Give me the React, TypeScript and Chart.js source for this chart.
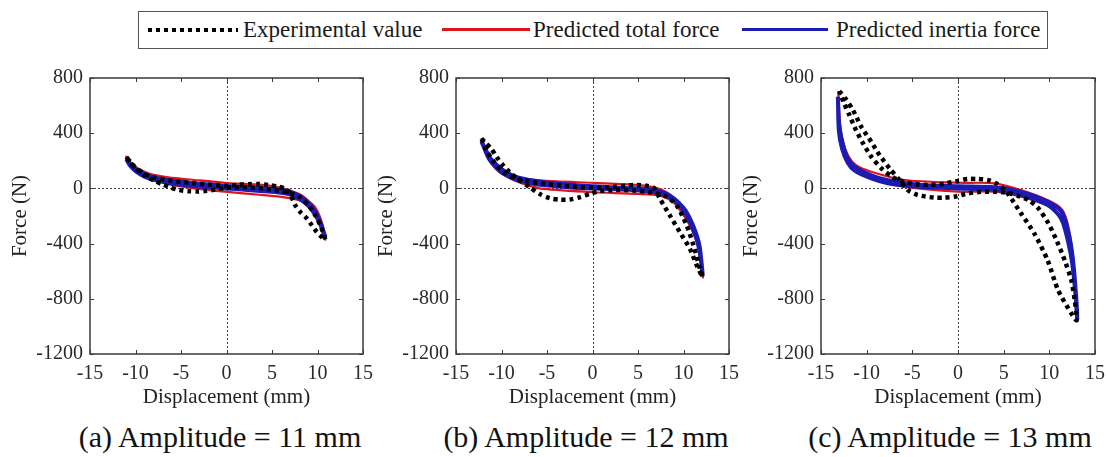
import React, { useEffect, useRef } from 'react';
import { Chart, registerables } from 'chart.js';

Chart.register(...registerables);

const FONT = "'Liberation Serif', 'Times New Roman', Times, serif";

// Axis ticks
const xTickValues = [-15, -10, -5, 0, 5, 10, 15];
const yTickValues = [-1200, -800, -400, 0, 400, 800];

// Legend / captions
const seriesNames = ['Experimental value', 'Predicted total force', 'Predicted inertia force'];
const captions = ['(a) Amplitude = 11 mm', '(b) Amplitude = 12 mm', '(c) Amplitude = 13 mm'];

// ---------- Panel (a): amplitude 11 mm ----------
const expXa = [-11.0, -10.6, -10.0, -9.0, -8.0, -7.0, -6.2, -5.2, -4.2, -3.2, -2.2, -1.2, 0.0, 1.5, 3.0, 4.5, 6.0, 7.0, 8.0, 9.0, 9.8, 10.4, 10.85,
  10.5, 9.9, 9.36, 8.81, 8.08, 7.53, 7.1, 6.6, 5.7, 4.6, 3.5, 2.4, 1.2, 0.0, -2.0, -4.0, -6.0, -8.0, -9.0, -10.0, -10.6, -11.0];
const expYa = [228, 190, 145, 95, 58, 28, 8, -12, -20, -22, -18, -8, 5, 10, 5, -5, -18, -35, -62, -120, -200, -280, -372,
  -355, -314, -265, -217, -169, -120, -55, -7, 12, 25, 32, 30, 25, 18, 28, 40, 55, 80, 105, 150, 195, 228];

const totalXa = [-11.05, -10.5, -10.0, -9.0, -8.0, -6.4, -3.5, -0.2, 3.9, 6.0, 6.8, 7.5, 8.2, 9.0, 9.7, 10.3, 10.7, 10.85,
  10.6, 10.2, 9.4, 8.6, 7.9, 6.4, 3.9, -0.2, -3.5, -6.0, -7.5, -9.0, -10.0, -10.8, -11.05];
const totalYa = [235, 185, 155, 121, 98, 80, 61, 41, 25, 5, -12, -28, -48, -90, -132, -210, -300, -372,
  -330, -260, -169, -110, -84, -65, -48, -24, 0, 25, 55, 85, 125, 180, 235];

const inertiaXa = [-11.0, -10.5, -10.0, -9.0, -8.0, -6.0, -4.0, -2.0, 0.0, 2.0, 4.0, 6.0, 7.0, 8.0, 9.0, 9.7, 10.2, 10.6, 10.85,
  10.5, 10.0, 9.0, 8.0, 7.0, 6.0, 4.0, 2.0, 0.0, -2.0, -4.0, -6.0, -8.0, -9.0, -10.0, -10.6, -11.0];
const inertiaYa = [210, 170, 140, 105, 80, 55, 40, 28, 18, 10, 2, -10, -25, -55, -105, -160, -230, -300, -350,
  -290, -215, -125, -75, -45, -32, -20, -10, 0, 10, 20, 35, 62, 85, 125, 165, 210];

// ---------- Panel (b): amplitude 12 mm ----------
const expXb = [-12.2, -11.8, -11.1, -10.5, -9.8, -9.1, -8.2, -6.9, -5.8, -4.7, -3.6, -2.5, -1.4, -0.3, 0.8, 2.5, 4.5, 6.5, 8.0, 9.25, 10.35, 11.1, 11.7, 12.1,
  11.45, 10.7, 9.6, 8.5, 7.42, 6.7, 5.77, 4.86, 3.76, 2.5, 1.0, -1.0, -3.0, -5.0, -7.0, -8.5, -9.8, -10.8, -11.6, -12.2];
const expYb = [362, 333, 285, 225, 165, 116, 68, 8, -40, -71, -81, -81, -64, -40, -20, -10, -15, -30, -55, -124, -269, -413, -557, -642,
  -557, -437, -317, -196, -76, 6, 20, 25, 20, 12, 5, 8, 18, 32, 50, 75, 120, 190, 270, 362];

const totalXb = [-12.2, -11.8, -11.2, -10.5, -9.5, -8.3, -5.4, 0.1, 4.86, 7.4, 8.9, 10.35, 11.45, 12.0, 12.15,
  11.8, 10.7, 8.9, 7.4, 4.9, 0.1, -5.4, -7.0, -8.5, -9.8, -10.6, -11.5, -12.2];
const totalYb = [365, 290, 220, 177, 120, 80, 56, 40, 25, -4, -64, -172, -341, -557, -645,
  -461, -269, -100, -52, -40, -28, -4, 20, 55, 100, 141, 220, 365];

const inertiaXb = [-12.2, -11.5, -11.0, -10.0, -9.0, -8.0, -6.0, -4.0, -2.0, 0.0, 2.0, 4.0, 6.0, 7.0, 8.0, 9.0, 10.0, 10.5, 11.0, 11.5, 11.8, 12.1,
  11.8, 11.5, 11.0, 10.5, 10.0, 9.0, 8.0, 7.0, 6.0, 4.0, 2.0, 0.0, -2.0, -4.0, -6.0, -8.0, -9.0, -10.0, -11.0, -11.5, -12.2];
const inertiaYb = [340, 250, 200, 140, 100, 75, 50, 35, 25, 15, 8, 2, -5, -15, -35, -75, -140, -190, -260, -350, -430, -620,
  -470, -380, -290, -215, -160, -90, -50, -30, -20, -10, -5, 0, 5, 15, 28, 55, 80, 115, 180, 230, 340];

// ---------- Panel (c): amplitude 13 mm ----------
const expXc = [-13.0, -12.3, -11.5, -10.6, -9.5, -8.6, -7.5, -6.4, -5.5, -4.4, -2.6, -1.5, -0.4, 1.1, 2.5, 4.0, 5.5, 6.8, 7.7, 8.75, 9.9, 10.85, 11.7, 12.4, 12.78, 13.0,
  12.4, 10.95, 9.8, 8.35, 6.9, 5.44, 4.9, 4.16, 3.25, 2.2, 1.06, 0.0, -1.5, -3.0, -4.5, -6.0, -7.1, -8.4, -9.5, -10.4, -11.17, -11.9, -12.5, -13.0];
const expYc = [705, 650, 568, 447, 338, 242, 146, 61, -12, -48, -67, -67, -60, -36, -25, -25, -32, -60, -84, -140, -253, -385, -525, -664, -809, -955,
  -905, -736, -519, -326, -181, -36, 1, 37, 61, 68, 68, 54, 35, 25, 30, 50, 80, 146, 230, 327, 423, 532, 620, 705];

const totalXc = [-13.1, -12.95, -12.6, -12.0, -11.2, -9.5, -5.87, 0.0, 4.0, 6.9, 9.8, 11.3, 11.9, 12.4, 12.8, 13.05,
  12.9, 12.5, 12.1, 11.3, 9.8, 6.9, 4.0, 0.0, -5.87, -9.5, -11.0, -12.2, -12.8, -13.05, -13.1];
const totalYc = [705, 500, 340, 235, 170, 121, 61, 41, 37, -12, -84, -145, -230, -400, -650, -960,
  -760, -520, -360, -169, -120, -60, -24, -24, 12, 73, 120, 200, 330, 500, 705];

const inertiaXc = [-13.15, -13.0, -12.6, -12.1, -11.35, -9.5, -7.7, -4.0, 0.0, 4.0, 6.9, 9.8, 11.1, 11.64, 12.2, 12.56, 12.9, 13.05,
  12.85, 12.5, 12.1, 11.5, 11.0, 9.8, 6.9, 4.0, 0.0, -4.0, -7.7, -9.5, -11.35, -12.1, -12.7, -13.05, -13.15];
const inertiaYc = [664, 450, 320, 220, 160, 95, 60, 25, 15, 8, -25, -95, -150, -210, -350, -500, -750, -950,
  -760, -540, -400, -250, -190, -120, -48, -10, 0, 10, 38, 72, 130, 190, 290, 420, 664];

const zip = (xs: number[], ys: number[]) => xs.map((x, i) => ({ x, y: ys[i] }));

const framePlugin = {
  id: 'matlabFrame',
  beforeDatasetsDraw(chart: any) {
    const { ctx, chartArea, scales } = chart;
    const { left, right, top, bottom } = chartArea;
    const x0 = Math.round(scales.x.getPixelForValue(0)) + 0.5;
    const y0 = Math.round(scales.y.getPixelForValue(0)) + 0.5;
    ctx.save();
    ctx.strokeStyle = '#444';
    ctx.lineWidth = 1;
    ctx.setLineDash([2, 2]);
    ctx.beginPath();
    ctx.moveTo(x0, top);
    ctx.lineTo(x0, bottom);
    ctx.moveTo(left, y0);
    ctx.lineTo(right, y0);
    ctx.stroke();
    ctx.restore();
  },
  afterDatasetsDraw(chart: any) {
    const { ctx, chartArea, scales } = chart;
    const { left, right, top, bottom } = chartArea;
    ctx.save();
    ctx.strokeStyle = '#3a3a3a';
    ctx.lineWidth = 1.5;
    ctx.setLineDash([]);
    ctx.strokeRect(left, top, right - left, bottom - top);
    ctx.lineWidth = 1;
    ctx.beginPath();
    const L = 4;
    scales.x.ticks.forEach((t: any) => {
      const px = Math.round(scales.x.getPixelForValue(t.value)) + 0.5;
      ctx.moveTo(px, bottom);
      ctx.lineTo(px, bottom - L);
      ctx.moveTo(px, top);
      ctx.lineTo(px, top + L);
    });
    scales.y.ticks.forEach((t: any) => {
      const py = Math.round(scales.y.getPixelForValue(t.value)) + 0.5;
      ctx.moveTo(left, py);
      ctx.lineTo(left + L, py);
      ctx.moveTo(right, py);
      ctx.lineTo(right - L, py);
    });
    ctx.stroke();
    ctx.restore();
  },
};

type PanelCfg = {
  left: number;
  width: number;
  exp: { x: number; y: number }[];
  total: { x: number; y: number }[];
  inertia: { x: number; y: number }[];
};

const panels: PanelCfg[] = [
  { left: 0, width: 373, exp: zip(expXa, expYa), total: zip(totalXa, totalYa), inertia: zip(inertiaXa, inertiaYa) },
  { left: 366, width: 373, exp: zip(expXb, expYb), total: zip(totalXb, totalYb), inertia: zip(inertiaXb, inertiaYb) },
  { left: 731, width: 374, exp: zip(expXc, expYc), total: zip(totalXc, totalYc), inertia: zip(inertiaXc, inertiaYc) },
];

const RED = '#e0141e';
const BLUE = '#1c1cb4';
const CANVAS_TOP = 68;
const CANVAS_H = 342;

function Panel({ cfg }: { cfg: PanelCfg }) {
  const ref = useRef<HTMLCanvasElement>(null);
  useEffect(() => {
    if (!ref.current) return;
    const chart = new Chart(ref.current, {
      type: 'scatter',
      data: {
        datasets: [
          {
            label: seriesNames[0], data: cfg.exp, showLine: true, borderColor: '#000', backgroundColor: '#000',
            borderWidth: 4.5, borderDash: [4, 4], borderCapStyle: 'butt', pointRadius: 0, tension: 0.25, fill: false,
          },
          {
            label: seriesNames[2], data: cfg.inertia, showLine: true, borderColor: BLUE, backgroundColor: BLUE,
            borderWidth: 4, pointRadius: 0, tension: 0.25, fill: false,
          },
          {
            label: seriesNames[1], data: cfg.total, showLine: true, borderColor: RED, backgroundColor: RED,
            borderWidth: 2.2, pointRadius: 0, tension: 0.25, fill: false,
          },
        ],
      } as any,
      options: {
        responsive: false,
        animation: false,
        events: [],
        layout: { padding: { top: 10, right: 10, left: 0, bottom: 0 } },
        plugins: { legend: { display: false }, tooltip: { enabled: false } },
        scales: {
          x: {
            type: 'linear', min: -15, max: 15,
            grid: { display: false, drawTicks: false },
            border: { display: false },
            afterBuildTicks: (s: any) => { s.ticks = xTickValues.map((v) => ({ value: v })); },
            afterFit: (s: any) => { s.height = 56; s.paddingLeft = 0; s.paddingRight = 0; },
            ticks: {
              callback: (v: any) => String(v), font: { family: FONT, size: 20 }, color: '#2a2a2a',
              padding: 8, maxRotation: 0, autoSkip: false,
            },
            title: { display: true, text: 'Displacement (mm)', font: { family: FONT, size: 21 }, color: '#222', padding: { top: 0, bottom: 0 } },
          },
          y: {
            type: 'linear', min: -1200, max: 800,
            grid: { display: false, drawTicks: false },
            border: { display: false },
            afterBuildTicks: (s: any) => { s.ticks = yTickValues.map((v) => ({ value: v })); },
            afterFit: (s: any) => { s.width = 90; s.paddingTop = 0; s.paddingBottom = 0; },
            ticks: {
              callback: (v: any) => String(v), font: { family: FONT, size: 20 }, color: '#2a2a2a',
              padding: 7, autoSkip: false,
            },
            title: { display: true, text: 'Force (N)', font: { family: FONT, size: 21 }, color: '#222', padding: { top: 8, bottom: 0 } },
          },
        },
      } as any,
      plugins: [framePlugin],
    });
    return () => chart.destroy();
  }, [cfg]);
  return (
    <canvas
      ref={ref}
      width={cfg.width}
      height={CANVAS_H}
      style={{ position: 'absolute', left: cfg.left, top: CANVAS_TOP, width: cfg.width, height: CANVAS_H }}
    />
  );
}

const captionCenters = [220, 586, 950];

export default function App() {
  const textStyle: React.CSSProperties = {
    position: 'absolute', top: 0, height: 36, lineHeight: '36px', fontFamily: FONT, fontSize: 23, color: '#1a1a1a', whiteSpace: 'nowrap',
  };
  return (
    <div style={{ position: 'absolute', left: 0, top: 0, width: 1108, height: 457, background: '#fff', overflow: 'hidden' }}>
      <div style={{ position: 'absolute', left: 138, top: 11, width: 910, height: 38, border: '1.5px solid #555', boxSizing: 'border-box' }}>
        <div style={{ position: 'absolute', left: 9, top: 16, width: 90, height: 4, background: 'repeating-linear-gradient(to right, #000 0 4px, transparent 4px 8px)' }} />
        <div style={{ ...textStyle, left: 104 }}>{seriesNames[0]}</div>
        <div style={{ position: 'absolute', left: 303, top: 16, width: 88, height: 3, background: RED }} />
        <div style={{ ...textStyle, left: 394 }}>{seriesNames[1]}</div>
        <div style={{ position: 'absolute', left: 603, top: 16, width: 86, height: 3, background: BLUE }} />
        <div style={{ ...textStyle, left: 697 }}>{seriesNames[2]}</div>
      </div>
      {panels.map((p, i) => (
        <Panel key={i} cfg={p} />
      ))}
      {captions.map((c, i) => (
        <div
          key={c}
          style={{
            position: 'absolute', left: captionCenters[i] - 200, width: 400, top: 420, textAlign: 'center',
            fontFamily: FONT, fontSize: 30, lineHeight: '34px', color: '#111', whiteSpace: 'nowrap',
          }}
        >
          {c}
        </div>
      ))}
    </div>
  );
}
